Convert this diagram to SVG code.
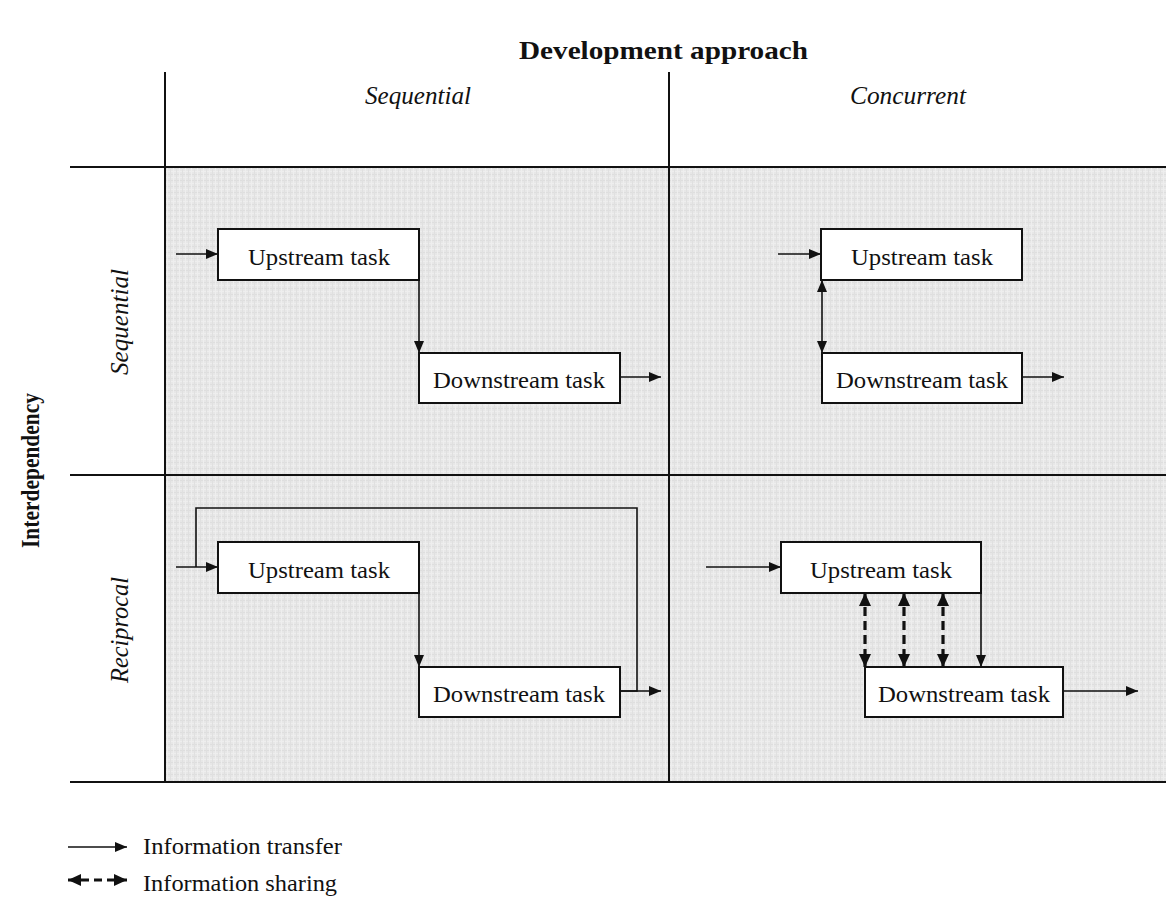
<svg xmlns="http://www.w3.org/2000/svg" width="1166" height="899" viewBox="0 0 1166 899">
  <style>
    .grid { stroke: #111; stroke-width: 2; fill: none; }
    .box { fill: #fff; stroke: #111; stroke-width: 2; }
    .lbl { font-family: "Liberation Serif", "Times New Roman", serif; font-size: 24px; fill: #111; }
    .leg { font-family: "Liberation Serif", "Times New Roman", serif; font-size: 23px; fill: #111; }
    .hdr { font-family: "Liberation Serif", "Times New Roman", serif; font-size: 25px; font-style: italic; fill: #111; }
    .ttl { font-family: "Liberation Serif", "Times New Roman", serif; font-size: 26px; font-weight: bold; fill: #111; }
    .flow { stroke: #111; stroke-width: 1.6; fill: none; marker-end: url(#head); }
    .share { stroke: #111; stroke-width: 3.2; fill: none; stroke-dasharray: 9 5; marker-start: url(#bigStart); marker-end: url(#bigEnd); }
  </style>
  <defs>
    <marker id="head" viewBox="0 0 12 10" refX="12" refY="5" markerWidth="12" markerHeight="10" markerUnits="userSpaceOnUse" orient="auto">
      <path d="M0,0 L12,5 L0,10 Z" fill="#111" stroke="none"/>
    </marker>
    <marker id="headStart" viewBox="0 0 12 10" refX="0" refY="5" markerWidth="12" markerHeight="10" markerUnits="userSpaceOnUse" orient="auto">
      <path d="M12,0 L0,5 L12,10 Z" fill="#111" stroke="none"/>
    </marker>
    <marker id="bigEnd" viewBox="0 0 13 12" refX="13" refY="6" markerWidth="13" markerHeight="12" markerUnits="userSpaceOnUse" orient="auto">
      <path d="M0,0 L13,6 L0,12 Z" fill="#111" stroke="none"/>
    </marker>
    <marker id="bigStart" viewBox="0 0 13 12" refX="0" refY="6" markerWidth="13" markerHeight="12" markerUnits="userSpaceOnUse" orient="auto">
      <path d="M13,0 L0,6 L13,12 Z" fill="#111" stroke="none"/>
    </marker>
    <!-- woven light-grey texture for the matrix cells -->
    <pattern id="weave" width="6" height="6" patternUnits="userSpaceOnUse">
      <rect width="6" height="6" fill="#e7e7e7"/>
      <rect x="0" y="0" width="6" height="1" fill="#dedede"/>
      <rect x="0" y="3" width="6" height="1" fill="#eeeeee"/>
      <rect x="2" y="0" width="1" height="6" fill="#e0e0e0"/>
      <rect x="5" y="0" width="1" height="6" fill="#eeeeee"/>
    </pattern>
  </defs>

  <!-- matrix background and grid -->
  <g id="matrix">
    <rect x="165" y="167" width="1001" height="615" fill="url(#weave)"/>
    <path class="grid" d="M165,72 V782 M669,72 V782 M70,167 H1166 M70,475 H1166 M70,782 H1166"/>
  </g>

  <!-- axis titles and headers -->
  <g id="headers">
    <text class="ttl" x="519" y="59" textLength="289" lengthAdjust="spacingAndGlyphs">Development approach</text>
    <text class="hdr" x="365" y="104" textLength="106" lengthAdjust="spacingAndGlyphs">Sequential</text>
    <text class="hdr" x="850" y="104" textLength="116" lengthAdjust="spacingAndGlyphs">Concurrent</text>
    <text class="ttl" transform="translate(39,548) rotate(-90)" textLength="155" lengthAdjust="spacingAndGlyphs">Interdependency</text>
    <text class="hdr" transform="translate(128,375) rotate(-90)" textLength="106" lengthAdjust="spacingAndGlyphs">Sequential</text>
    <text class="hdr" transform="translate(128,683) rotate(-90)" textLength="106" lengthAdjust="spacingAndGlyphs">Reciprocal</text>
  </g>

  <!-- connectors -->
  <g id="connectors">
    <!-- sequential / sequential -->
    <path class="flow" d="M176,254 H218"/>
    <path class="flow" d="M419,280 V353"/>
    <path class="flow" d="M620,377 H661"/>
    <!-- sequential / concurrent -->
    <path class="flow" d="M778,254 H821"/>
    <path class="flow" d="M822,280 V353" marker-start="url(#headStart)"/>
    <path class="flow" d="M1022,377 H1064"/>
    <!-- reciprocal / sequential: feedback loop from downstream back to upstream -->
    <path class="flow" d="M620,691 H637 V508 H196 V567" style="marker-end:none"/>
    <path class="flow" d="M176,567 H218"/>
    <path class="flow" d="M419,593 V667"/>
    <path class="flow" d="M620,691 H661"/>
    <!-- reciprocal / concurrent -->
    <path class="flow" d="M706,567 H781"/>
    <path class="flow" d="M981,593 V667"/>
    <path class="share" d="M865,593 V667"/>
    <path class="share" d="M904,593 V667"/>
    <path class="share" d="M943,593 V667"/>
    <path class="flow" d="M1063,691 H1138"/>
    <!-- legend -->
    <path class="flow" d="M68,847 H127"/>
    <path class="share" d="M68,880 H127" style="stroke-dasharray:8 5"/>
  </g>

  <!-- task nodes -->
  <g id="ss-up">
    <rect class="box" x="218" y="229" width="201" height="51"/>
    <text class="lbl" x="248" y="265" textLength="142" lengthAdjust="spacingAndGlyphs">Upstream task</text>
  </g>
  <g id="ss-down">
    <rect class="box" x="419" y="353" width="201" height="50"/>
    <text class="lbl" x="433" y="388" textLength="172" lengthAdjust="spacingAndGlyphs">Downstream task</text>
  </g>
  <g id="sc-up">
    <rect class="box" x="821" y="229" width="201" height="51"/>
    <text class="lbl" x="851" y="265" textLength="142" lengthAdjust="spacingAndGlyphs">Upstream task</text>
  </g>
  <g id="sc-down">
    <rect class="box" x="822" y="353" width="200" height="50"/>
    <text class="lbl" x="836" y="388" textLength="172" lengthAdjust="spacingAndGlyphs">Downstream task</text>
  </g>
  <g id="rs-up">
    <rect class="box" x="218" y="542" width="201" height="51"/>
    <text class="lbl" x="248" y="578" textLength="142" lengthAdjust="spacingAndGlyphs">Upstream task</text>
  </g>
  <g id="rs-down">
    <rect class="box" x="419" y="667" width="201" height="50"/>
    <text class="lbl" x="433" y="702" textLength="172" lengthAdjust="spacingAndGlyphs">Downstream task</text>
  </g>
  <g id="rc-up">
    <rect class="box" x="781" y="542" width="200" height="51"/>
    <text class="lbl" x="810" y="578" textLength="142" lengthAdjust="spacingAndGlyphs">Upstream task</text>
  </g>
  <g id="rc-down">
    <rect class="box" x="865" y="667" width="198" height="50"/>
    <text class="lbl" x="878" y="702" textLength="172" lengthAdjust="spacingAndGlyphs">Downstream task</text>
  </g>

  <!-- legend labels -->
  <g id="legend">
    <text class="leg" x="143" y="854" textLength="199" lengthAdjust="spacingAndGlyphs">Information transfer</text>
    <text class="leg" x="143" y="891" textLength="194" lengthAdjust="spacingAndGlyphs">Information sharing</text>
  </g>
</svg>
